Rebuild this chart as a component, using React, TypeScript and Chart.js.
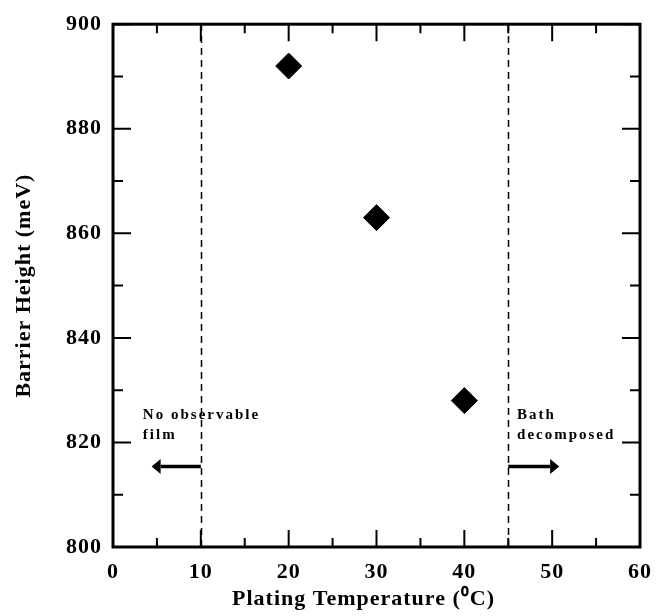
import { useEffect, useRef } from "react";
import { Chart, registerables } from "chart.js";

Chart.register(...registerables);

// ---- data ----
const temperatures = [20, 30, 40];
const barrierHeights = [892, 863, 828];
const xTickValues = [0, 10, 20, 30, 40, 50, 60];
const yTickValues = [800, 820, 840, 860, 880, 900];
const boundaryTemps = [10, 45];
const leftNote = ["No observable", "film"];
const rightNote = ["Bath", "decomposed"];
const noteXs = [3.4, 46.0];
const noteLineYs = [824.5, 820.6];
const arrowLevel = 815.4;
const leftArrowFromTo = [10, 4.4];
const rightArrowFromTo = [45, 50.8];

const FONT = "'Liberation Serif', 'Times New Roman', serif";

const decorPlugin = {
  id: "decor",
  beforeDraw(chart: any) {
    (chart.ctx as any).letterSpacing = "1px";
  },
  afterDraw(chart: any) {
    const ctx = chart.ctx as CanvasRenderingContext2D;
    const xs = chart.scales.x;
    const ys = chart.scales.y;
    const { left, right, top, bottom } = chart.chartArea;
    ctx.save();
    ctx.strokeStyle = "#000";
    ctx.fillStyle = "#000";

    // dashed boundary lines
    ctx.lineWidth = 1.5;
    ctx.setLineDash([7, 5]);
    boundaryTemps.forEach((t) => {
      const px = Math.round(xs.getPixelForValue(t)) + 0.5;
      ctx.beginPath();
      ctx.moveTo(px, bottom);
      ctx.lineTo(px, top);
      ctx.stroke();
    });
    ctx.setLineDash([]);

    // inner ticks
    ctx.lineWidth = 2;
    for (let v = 0; v <= 60; v += 5) {
      const px = xs.getPixelForValue(v);
      const len = v % 10 === 0 ? 17 : 9;
      ctx.beginPath();
      ctx.moveTo(px, bottom);
      ctx.lineTo(px, bottom - len);
      ctx.moveTo(px, top);
      ctx.lineTo(px, top + len);
      ctx.stroke();
    }
    for (let v = 800; v <= 900; v += 10) {
      const py = ys.getPixelForValue(v);
      const len = v % 20 === 0 ? 18 : 10;
      ctx.beginPath();
      ctx.moveTo(left, py);
      ctx.lineTo(left + len, py);
      ctx.moveTo(right, py);
      ctx.lineTo(right - len, py);
      ctx.stroke();
    }

    // frame
    ctx.lineWidth = 3;
    ctx.strokeRect(left, top, right - left, bottom - top);

    // arrows
    const drawArrow = (from: number, to: number) => {
      const x0 = xs.getPixelForValue(from);
      const x1 = xs.getPixelForValue(to);
      const y = ys.getPixelForValue(arrowLevel);
      const dir = x1 > x0 ? 1 : -1;
      const head = 9;
      ctx.lineWidth = 3.5;
      ctx.beginPath();
      ctx.moveTo(x0, y);
      ctx.lineTo(x1 - dir * head, y);
      ctx.stroke();
      ctx.beginPath();
      ctx.moveTo(x1, y);
      ctx.lineTo(x1 - dir * head, y - 7.5);
      ctx.lineTo(x1 - dir * head, y + 7.5);
      ctx.closePath();
      ctx.fill();
    };
    drawArrow(leftArrowFromTo[0], leftArrowFromTo[1]);
    drawArrow(rightArrowFromTo[0], rightArrowFromTo[1]);

    // notes
    (ctx as any).letterSpacing = "2px";
    ctx.font = `bold 15px ${FONT}`;
    ctx.textAlign = "left";
    ctx.textBaseline = "alphabetic";
    [leftNote, rightNote].forEach((lines, i) => {
      lines.forEach((line, j) => {
        ctx.fillText(line, xs.getPixelForValue(noteXs[i]), ys.getPixelForValue(noteLineYs[j]));
      });
    });
    ctx.restore();
  },
};

export default function App() {
  const canvasRef = useRef<HTMLCanvasElement | null>(null);

  useEffect(() => {
    if (!canvasRef.current) return;
    const chart = new Chart(canvasRef.current, {
      type: "scatter",
      data: {
        datasets: [
          {
            data: temperatures.map((t, i) => ({ x: t, y: barrierHeights[i] })),
            pointStyle: "rectRot",
            pointRadius: 13,
            pointHoverRadius: 13,
            backgroundColor: "#000",
            borderColor: "#000",
            borderWidth: 1,
          },
        ],
      },
      options: {
        animation: false,
        responsive: true,
        maintainAspectRatio: false,
        events: [],
        layout: { padding: { top: 20, right: 22, left: 0, bottom: 0 } },
        plugins: {
          legend: { display: false },
          tooltip: { enabled: false },
        },
        scales: {
          x: {
            type: "linear",
            min: 0,
            max: 60,
            afterBuildTicks: (scale: any) => {
              scale.ticks = xTickValues.map((v) => ({ value: v }));
            },
            afterFit: (scale: any) => {
              scale.height = 69;
            },
            grid: { display: false, drawTicks: false },
            border: { display: false },
            ticks: {
              autoSkip: false,
              maxRotation: 0,
              padding: 12,
              color: "#000",
              font: { family: FONT, size: 22, weight: "bold" },
            },
            title: {
              display: true,
              text: "Plating Temperature (⁰C)    ",
              color: "#000",
              padding: { top: 0, bottom: 3 },
              font: { family: FONT, size: 22, weight: "bold" },
            },
          },
          y: {
            type: "linear",
            min: 800,
            max: 900,
            afterBuildTicks: (scale: any) => {
              scale.ticks = yTickValues.map((v) => ({ value: v }));
            },
            afterFit: (scale: any) => {
              scale.width = 113;
            },
            grid: { display: false, drawTicks: false },
            border: { display: false },
            ticks: {
              autoSkip: false,
              padding: 11,
              color: "#000",
              font: { family: FONT, size: 22, weight: "bold" },
            },
            title: {
              display: true,
              text: "Barrier Height (meV)",
              color: "#000",
              padding: { top: 11, bottom: 0 },
              font: { family: FONT, size: 22, weight: "bold" },
            },
          },
        },
      },
      plugins: [decorPlugin],
    } as any);
    return () => chart.destroy();
  }, []);

  return (
    <div style={{ position: "absolute", left: 0, top: 0, width: 663, height: 616, background: "#fff" }}>
      <canvas ref={canvasRef} />
    </div>
  );
}
